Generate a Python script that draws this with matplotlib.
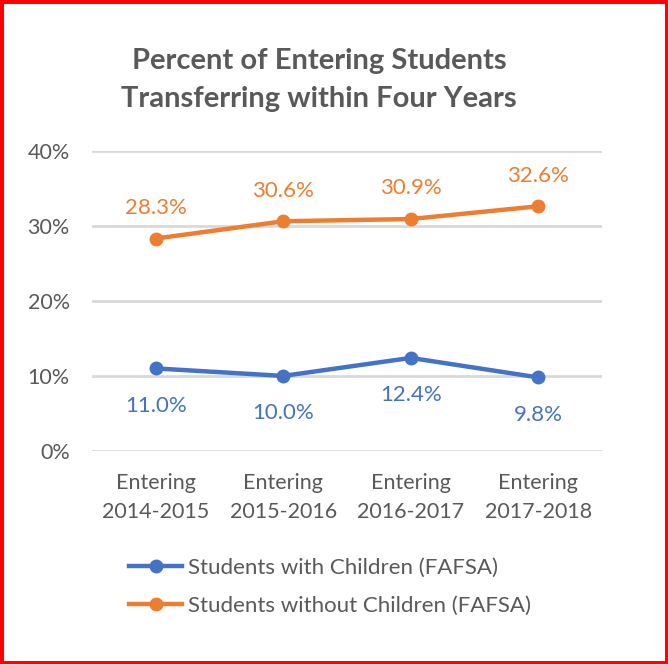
import matplotlib.pyplot as plt
from matplotlib.patches import Rectangle

# data
categories = ["Entering\n2014-2015", "Entering\n2015-2016", "Entering\n2016-2017", "Entering\n2017-2018"]
with_children = [11.0, 10.0, 12.4, 9.8]
without_children = [28.3, 30.6, 30.9, 32.6]
y_ticks = [0, 10, 20, 30, 40]
y_tick_labels = ["0%", "10%", "20%", "30%", "40%"]

blue = "#4472C4"
orange = "#ED7D31"
gray = "#595959"

plt.rcParams['font.family'] = ['Lato', 'DejaVu Sans']

fig = plt.figure(figsize=(6.68, 6.64), dpi=100)
ax = fig.add_axes([92 / 668, 1 - 451 / 664, 510 / 668, 300.3 / 664])

x = list(range(len(categories)))
ax.plot(x, with_children, color=blue, lw=3.2, marker='o', ms=9,
        label="Students with Children (FAFSA)", zorder=3)
ax.plot(x, without_children, color=orange, lw=3.2, marker='o', ms=9,
        label="Students without Children (FAFSA)", zorder=3)

for xi, v in zip(x, with_children):
    ax.annotate(f"{v:.1f}%", (xi, v), xytext=(0, -27), textcoords='offset points',
                ha='center', va='center', color=blue, fontsize=16)
for xi, v in zip(x, without_children):
    ax.annotate(f"{v:.1f}%", (xi, v), xytext=(0, 22), textcoords='offset points',
                ha='center', va='center', color=orange, fontsize=16)

ax.set_xlim(-0.5, 3.5)
ax.set_ylim(0, 40)
ax.set_yticks(y_ticks)
ax.set_yticklabels(y_tick_labels)
ax.set_xticks(x)
ax.set_xticklabels(categories, linespacing=1.55)
ax.tick_params(axis='both', length=0, colors=gray, labelsize=15.5)
ax.tick_params(axis='y', pad=16)
ax.tick_params(axis='x', pad=16)
ax.grid(axis='y', color='#D9D9D9', lw=2)
ax.set_axisbelow(True)
for s in ax.spines.values():
    s.set_visible(False)

fig.text(319 / 668, 1 - 80 / 664, "Percent of Entering Students\nTransferring within Four Years",
         ha='center', va='center', fontsize=21, fontweight='bold', color=gray,
         linespacing=1.6)

fig.legend(loc='upper left', bbox_to_anchor=(118 / 668, 1 - 547 / 664), frameon=False,
           fontsize=16, labelcolor=gray, handlelength=2.4, handletextpad=0.25,
           labelspacing=0.8, borderpad=0)

fig.patches.append(Rectangle((0, 0), 1, 1, transform=fig.transFigure, fill=False,
                             edgecolor='red', lw=5))

fig.savefig("out.png", dpi=100)
